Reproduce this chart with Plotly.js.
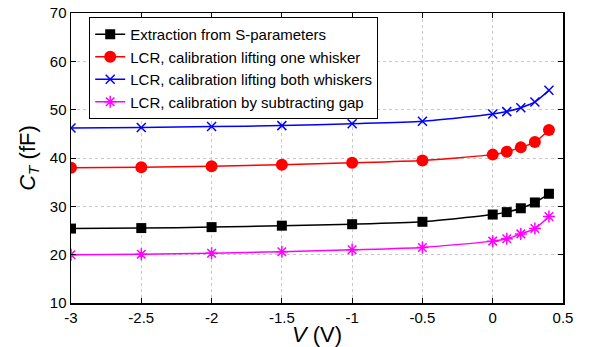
<!DOCTYPE html>
<html>
<head>
<meta charset="utf-8">
<script src="https://cdn.plot.ly/plotly-3.0.1.min.js"></script>
<style>html,body{margin:0;padding:0;background:#fff;}#chart{width:590px;height:347px;}</style>
</head>
<body>
<div id="chart"></div>
<script>
var voltage = [-3, -2.5, -2, -1.5, -1, -0.5, 0, 0.1, 0.2, 0.3, 0.4];
var sParam = [25.4, 25.5, 25.7, 26.0, 26.3, 26.8, 28.3, 28.8, 29.6, 30.8, 32.6];
var lcrOne = [38.0, 38.1, 38.3, 38.6, 39.0, 39.5, 40.7, 41.3, 42.2, 43.3, 45.8];
var lcrBoth = [46.2, 46.3, 46.5, 46.7, 47.1, 47.6, 49.1, 49.6, 50.4, 51.6, 54.0];
var lcrGap = [20.0, 20.1, 20.3, 20.6, 21.0, 21.5, 22.8, 23.3, 24.3, 25.4, 27.9];
var names = ['Extraction from S-parameters', 'LCR, calibration lifting one whisker',
             'LCR, calibration lifting both whiskers', 'LCR, calibration by subtracting gap'];
var xTicks = [-3, -2.5, -2, -1.5, -1, -0.5, 0, 0.5];
var yTicks = [10, 20, 30, 40, 50, 60, 70];

var FONT = 'Liberation Sans, Arial, Helvetica, sans-serif';
function tr(y, name, color, symbol, size, lw) {
  return {x: voltage, y: y, name: name, type: 'scatter', mode: 'lines+markers',
    line: {color: color, width: 1.5, shape: 'spline', smoothing: 0.6},
    marker: {color: color, symbol: symbol, size: size, line: {color: color, width: lw}}};
}
var data = [
  tr(sParam, names[0], '#000000', 'square', 10, 0),
  tr(lcrOne, names[1], '#ff0000', 'circle', 12, 0),
  tr(lcrBoth, names[2], '#0000ff', 'x-thin-open', 9, 1.5),
  tr(lcrGap, names[3], '#ff00ff', 'asterisk-open', 10, 1.5)
];
var axBase = {showline: true, linecolor: '#000', linewidth: 1.5, mirror: 'ticks',
  ticks: 'inside', ticklen: 5, tickcolor: '#000', tickwidth: 1,
  showgrid: true, gridcolor: '#c8c8c8', griddash: 'dot', gridwidth: 1,
  zeroline: false, tickfont: {family: FONT, size: 15, color: '#000'}};
var layout = {
  width: 590, height: 347,
  margin: {l: 71, r: 27, t: 13, b: 44},
  paper_bgcolor: '#fff', plot_bgcolor: '#fff',
  showlegend: true,
  legend: {x: 0.037, y: 0.986, xanchor: 'left', yanchor: 'top',
    bordercolor: '#000', borderwidth: 1, bgcolor: '#fff',
    font: {family: FONT, size: 15, color: '#000'},
    tracegroupgap: 0},
  xaxis: Object.assign({}, axBase, {range: [-3, 0.5], tickvals: xTicks,
    ticktext: xTicks.map(String),
    title: {text: '<i>V</i> (V)', font: {family: FONT, size: 22, color: '#000'}, standoff: 1}}),
  yaxis: Object.assign({}, axBase, {range: [10, 70], tickvals: yTicks,
    title: {text: '<i>C</i><sub><i>T</i></sub> (fF)', font: {family: FONT, size: 22, color: '#000'}, standoff: 8}})
};
Plotly.newPlot('chart', data, layout, {displayModeBar: false, staticPlot: true});
</script>
</body>
</html>
